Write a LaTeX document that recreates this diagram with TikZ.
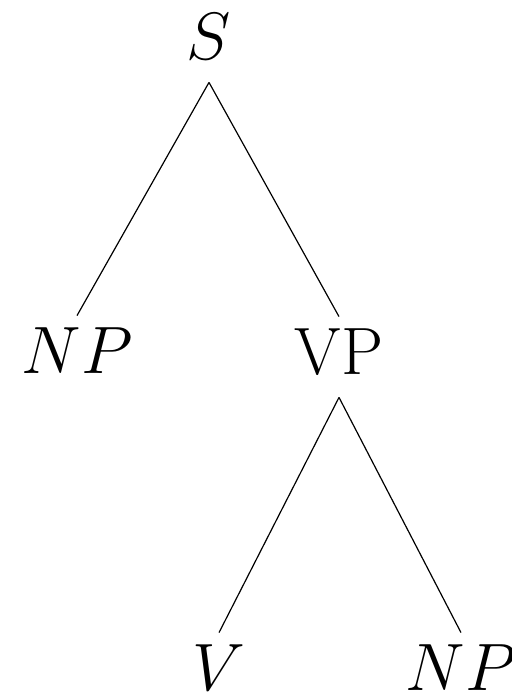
\RequirePackage{fix-cm}
\documentclass[tikz,border=0pt]{standalone}
\begin{document}
\begin{tikzpicture}[x=0.5pt,y=-0.5pt,
  lbl/.style={anchor=base,inner sep=0pt,font=\fontsize{33.5}{40}\selectfont,
    text height=28.5pt,text depth=11.5pt},
  edge/.style={line width=0.6pt}]
\useasboundingbox (0,0) rectangle (511,692);
\node[lbl] (S) at (209,59) {$S$};
\node[lbl] (NP1) at (77,373) {$NP$};
\node[lbl] (VP) at (339,374) {VP};
\node[lbl] (V) at (219,690) {$V$};
\node[lbl] (NP2) at (461,690) {$NP$};
\draw[edge] (S.south) -- (NP1.north);
\draw[edge] (S.south) -- (VP.north);
\draw[edge] (VP.south) -- (V.north);
\draw[edge] (VP.south) -- (NP2.north);
\end{tikzpicture}
\end{document}
